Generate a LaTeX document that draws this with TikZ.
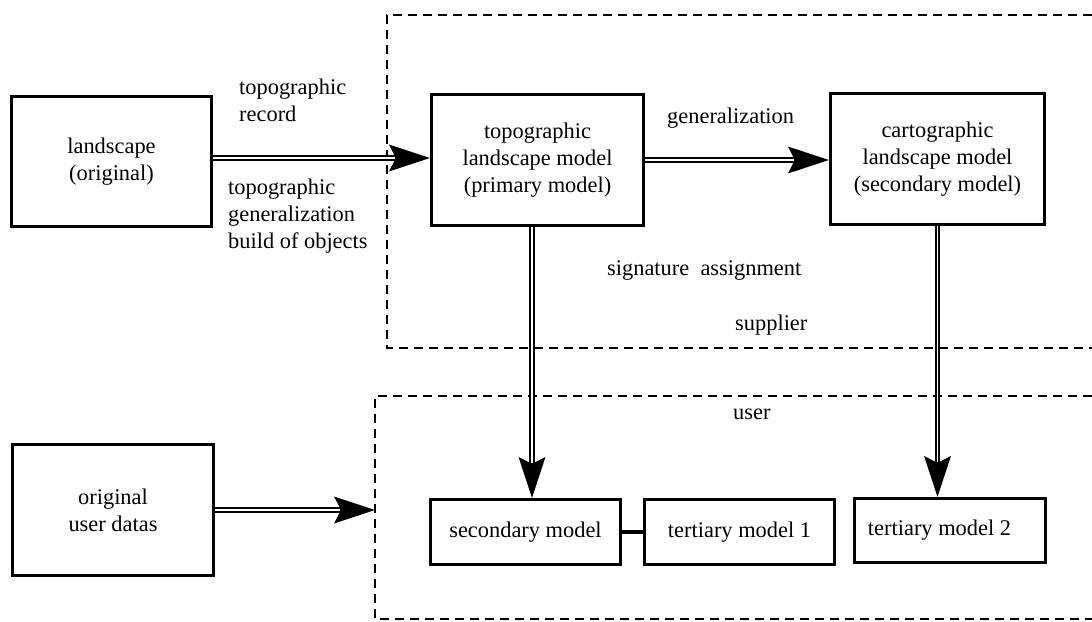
\documentclass[tikz,border=0pt]{standalone}
\usepackage{fontspec}
\setmainfont{Liberation Serif}
\usetikzlibrary{arrows.meta,calc}
\begin{document}
\begin{tikzpicture}[x=1pt,y=-1pt,
  every node/.style={font=\fontsize{22.4}{27}\selectfont},
  box/.style={draw, line width=2.7pt, align=center, inner sep=0pt},
  lbl/.style={align=left, inner sep=0pt, anchor=west},
  zone/.style={line width=2.4pt, dash pattern=on 9pt off 6pt},
  flow/.style={line width=5.4pt,
    -{Stealth[length=41pt,width=27pt,inset=7pt,line width=0pt]},
    postaction={draw=white, line width=1.7pt, -, shorten >=35pt}},
  link/.style={line width=4.5pt}]
\useasboundingbox (0,0) rectangle (1092,621);

% supplier and user areas, open to the right
\draw[zone] (1092,15) -- (387,15) -- (387,348) -- (1092,348);
\draw[zone] (1092,396) -- (375,396) -- (375,619) -- (1092,619);

% models
\node[box, minimum width=200.5pt, minimum height=130.5pt] (land) at (111.5,161.5) {landscape\\(original)};
\node[box, minimum width=212.5pt, minimum height=131.5pt] (topo) at (537.5,160) {topographic\\landscape model\\(primary model)};
\node[box, minimum width=214.5pt, minimum height=131.5pt] (carto) at (937.5,159) {cartographic\\landscape model\\(secondary model)};
\node[box, minimum width=201.5pt, minimum height=130.5pt] (orig) at (113,510) {original\\user datas};
\node[box, minimum width=190.5pt, minimum height=65.5pt] (sec) at (525.5,532) {secondary model};
\node[box, minimum width=190.5pt, minimum height=65.5pt] (ter1) at (739.5,532) {tertiary model 1};
\node[box, minimum width=191.5pt, minimum height=64.5pt] (ter2) at (950,530.5) {tertiary model 2\hspace*{21pt}};

% labels
\node[lbl] (recl) at (239,100.5) {topographic\\record};
\node[lbl] (genl) at (228,216.5) {topographic\\generalization\\build of objects};
\node[lbl] (gl) at (667,118) {generalization};
\node[lbl] (sig) at (607,270) {signature~ assignment};
\node[lbl] (sup) at (735,325) {supplier};
\node[lbl] (usr) at (733,414) {user};

% flows
\coordinate (uin) at (375,510);
\draw[flow] ([yshift=3.5pt]land.east) -- ([yshift=3.5pt]land.east -| topo.west);
\draw[flow] (topo.east) -- (topo.east -| carto.west);
\draw[flow] ([xshift=-5.5pt]topo.south) -- ([xshift=-5.5pt]topo.south |- sec.north);
\draw[flow] (carto.south) -- (carto.south |- ter2.north);
\draw[flow] (orig.east) -- (uin);
\draw[link] (sec.east) -- (ter1.west);
\end{tikzpicture}
\end{document}
